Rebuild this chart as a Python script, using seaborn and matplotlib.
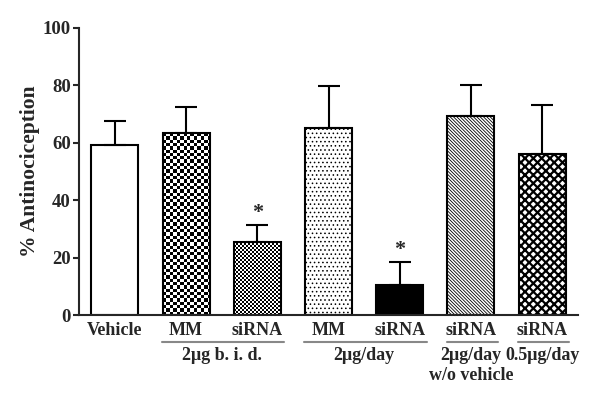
import numpy as np
import pandas as pd
import matplotlib
matplotlib.use("Agg")
import matplotlib.pyplot as plt
import seaborn as sns

# === DATA ===
conditions = ["Vehicle", "MM b.i.d.", "siRNA b.i.d.", "MM day", "siRNA day",
              "siRNA w/o", "siRNA 0.5"]
short_labels = ["Vehicle", "MM", "siRNA", "MM", "siRNA", "siRNA", "siRNA"]
means = [59.2, 63.4, 25.5, 65.0, 10.3, 69.2, 56.0]
sem = [8.5, 9.0, 6.0, 14.8, 8.2, 10.8, 17.2]
significant = [False, False, True, False, True, False, False]
groups = [
    (1, 2, ["2\u03bcg b. i. d."]),
    (3, 4, ["2\u03bcg/day"]),
    (5, 5, ["2\u03bcg/day", "w/o vehicle"]),
    (6, 6, ["0.5\u03bcg/day"]),
]

df = pd.DataFrame({"Condition": conditions, "Value": means})

# === STYLE ===
sns.set_style("ticks")
plt.rcParams["font.family"] = ["Liberation Serif", "DejaVu Serif"]
plt.rcParams["font.weight"] = "bold"
plt.rcParams["hatch.color"] = "black"

fig = plt.figure(figsize=(6, 4), dpi=100)
ax = fig.add_axes([0.132, 0.2125, 0.831, 0.7175])

sns.barplot(data=df, x="Condition", y="Value", color="white", width=0.66,
            edgecolor="black", linewidth=1.5, errorbar=None, ax=ax)

patches = ax.patches
fills = ["white", "white", "white", "white", "black", "white", "white"]
hatches = [None, None, None, "....", None, "\\" * 10, "xxxx"]
hatch_lw = [1, 1, 1, 0.6, 1, 0.6, 1.6]
for p, fc, h, hl in zip(patches, fills, hatches, hatch_lw):
    p.set_facecolor(fc)
    if h:
        p.set_hatch(h)
        if hasattr(p, "set_hatch_linewidth"):
            p.set_hatch_linewidth(hl)
    if h == "...." and hasattr(p, "set_hatch_color"):
        p.set_hatch_color("#777777")

# checkerboard fills for the two b.i.d. bars (cell size in pixels)
px_x = 1 / 71.4  # data units per pixel along x
px_y = 100 / 287.0  # data units per pixel along y
for p, cell in [(patches[1], 3.3), (patches[2], 2.0)]:
    x0, w, h = p.get_x(), p.get_width(), p.get_height()
    nx = max(1, int(round(w / px_x / cell)))
    ny = max(1, int(round(h / px_y / cell)))
    board = (np.add.outer(np.arange(ny), np.arange(nx)) % 2).astype(float)
    im = ax.imshow(board, cmap="gray", extent=(x0, x0 + w, 0, h),
                   interpolation="nearest", aspect="auto", zorder=p.get_zorder() + 0.1,
                   vmin=0, vmax=1)
    im.set_clip_path(p)
    p.set_zorder(p.get_zorder() + 0.2)
    p.set_facecolor("none")

# upper error bars
xs = np.arange(len(conditions))
ax.errorbar(xs, means, yerr=[np.zeros(len(sem)), sem], fmt="none",
            ecolor="black", elinewidth=1.5, capsize=8, capthick=1.5, zorder=1)

for x, m, s, sig in zip(xs, means, sem, significant):
    if sig:
        ax.text(x, m + s + 0.5, "*", ha="center", va="bottom", fontsize=16,
                fontweight="bold")

# === AXES ===
ax.set_xlim(-0.5, 6.5)
ax.set_ylim(0, 100)
ax.set_yticks([0, 20, 40, 60, 80, 100])
ax.set_ylabel("% Antinociception", fontsize=15.5, fontweight="bold", labelpad=2)
ax.set_xlabel("")
ax.set_xticks(xs)
ax.set_xticklabels(short_labels, fontsize=13, fontweight="bold")
ax.tick_params(axis="x", length=0, pad=5)
ax.tick_params(axis="y", length=4, width=1.5, labelsize=13.5, direction="out", pad=2)
for lbl in ax.get_yticklabels():
    lbl.set_fontweight("bold")
for side in ["top", "right"]:
    ax.spines[side].set_visible(False)
for side in ["left", "bottom"]:
    ax.spines[side].set_linewidth(1.5)

# group underlines and labels below tick labels
tr = ax.get_xaxis_transform()
for start, end, lines in groups:
    ax.plot([start - 0.34, end + 0.38], [-0.095, -0.095], transform=tr,
            color="#888888", lw=1.5, clip_on=False)
    for i, t in enumerate(lines):
        ax.text((start + end) / 2, -0.11 - i * 0.072, t, transform=tr,
                ha="center", va="top", fontsize=13, fontweight="bold")

fig.savefig("out.png", dpi=100)
